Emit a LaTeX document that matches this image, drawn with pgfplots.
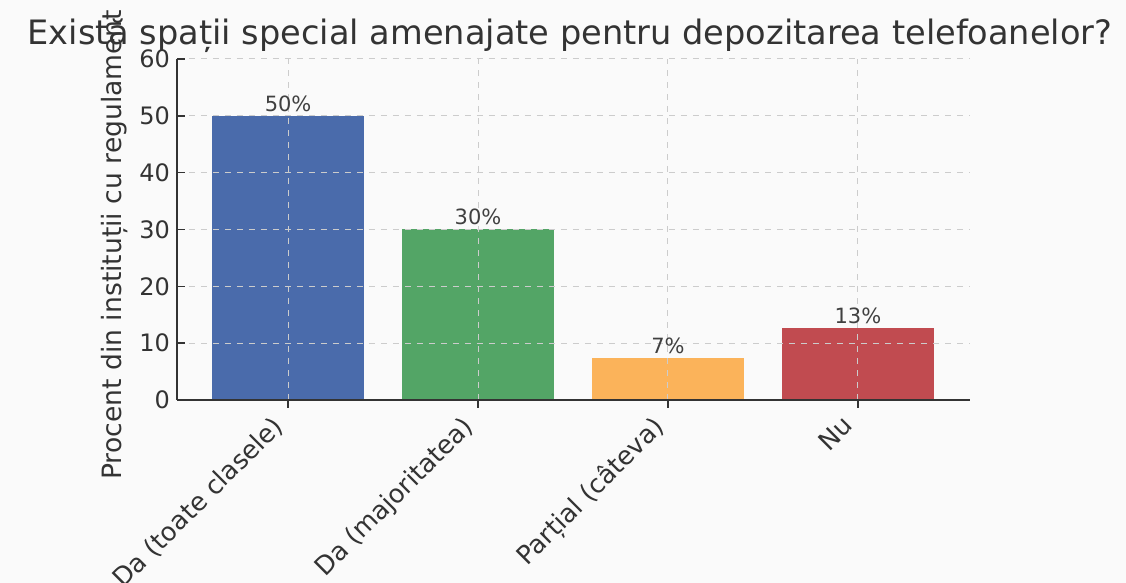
\documentclass[border=0pt]{standalone}
\usepackage{pgfplots}
\pgfplotsset{compat=1.18}
\usepackage{fontspec}
\setmainfont{DejaVu Sans}
\definecolor{cblue}{HTML}{4A6BAB}
\definecolor{cgreen}{HTML}{53A566}
\definecolor{corange}{HTML}{FBB35A}
\definecolor{cred}{HTML}{C14B50}
\definecolor{bg}{HTML}{FAFAFA}

\begin{document}
\begin{tikzpicture}
    % page = reference frame (0.5pt per pixel)
    \fill[bg] (-88.5pt,-91.5pt) rectangle (474.5pt,200pt);
    \useasboundingbox (-88.5pt,-91.5pt) rectangle (474.5pt,200pt);
    \begin{axis}[
        at={(0,0)}, anchor=south west,
        scale only axis,
        width=396.5pt, height=170.5pt,
        xmin=-0.585, xmax=3.59,
        ymin=0, ymax=60,
        ytick={0,10,20,30,40,50,60},
        xtick={0,1,2,3},
        xticklabels={Da (toate clasele), Da (majoritatea), Parțial (câteva), Nu},
        xticklabel style={rotate=45, anchor=north east, inner sep=1pt, xshift=-7pt, yshift=5pt, font=\fontsize{12.8}{14}\selectfont, text=black!80},
        yticklabel style={font=\fontsize{12}{14}\selectfont, text=black!80},
        /pgf/number format/assume math mode=true,
        axis lines*=left,
        axis line style={black!80, line width=0.8pt},
        tick align=inside,
        major tick length=4pt,
        tick style={black!80, line width=0.8pt},
        grid=major,
        grid style={dashed, black!20, line width=0.5pt},
        axis on top,
        ybar, bar width=0.8, bar shift=0pt,
        every axis plot/.append style={draw=none},
        nodes near coords,
        point meta=explicit symbolic,
        nodes near coords style={font=\fontsize{10.5}{12}\selectfont, text=black!75, inner sep=2pt},
    ]
    \addplot[fill=cblue]   coordinates {(0,50) [50\%]};
    \addplot[fill=cgreen]  coordinates {(1,30) [30\%]};
    \addplot[fill=corange] coordinates {(2,7.4) [7\%]};
    \addplot[fill=cred]    coordinates {(3,12.7) [13\%]};
    \end{axis}
    \node[rotate=90, anchor=west, font=\fontsize{13.3}{16}\selectfont, text=black!80, inner sep=0pt]
        at (-31pt,-40pt) {Procent din instituții cu regulament (\%)};
    \node[font=\fontsize{16.8}{18}\selectfont, text=black!80, inner sep=0pt]
        at (196.5pt,182pt) {Există spații special amenajate pentru depozitarea telefoanelor?};
\end{tikzpicture}
\end{document}
